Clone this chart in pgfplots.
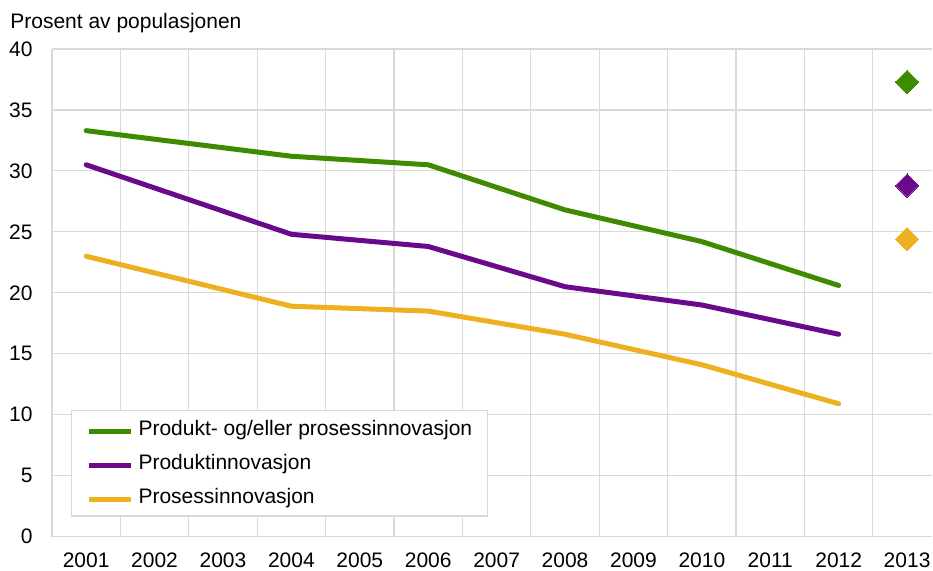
\documentclass[border=0pt]{standalone}
\usepackage{pgfplots}
\pgfplotsset{compat=1.18}
\usepackage{fontspec}
\setmainfont{Liberation Sans}

\definecolor{ggreen}{HTML}{3F8A00}
\definecolor{gpurple}{HTML}{6A0A8A}
\definecolor{ggold}{HTML}{EDB120}
\definecolor{ggrid}{HTML}{D9D9D9}

\begin{document}
\begin{tikzpicture}[font=\fontsize{10.5}{12}\selectfont]
  \path (-26pt,-17pt) rectangle (440.5pt,268.5pt);
  \begin{axis}[
    scale only axis,
    width=440.5pt, height=244pt,
    at={(0,0)}, anchor=south west,
    xmin=-0.5, xmax=12.37,
    ymin=0, ymax=40,
    xtick={0,...,12},
    xticklabels={2001,2002,2003,2004,2005,2006,2007,2008,2009,2010,2011,2012,2013},
    minor xtick={-0.5,0.5,1.5,2.5,3.5,4.5,5.5,6.5,7.5,8.5,9.5,10.5,11.5},
    ytick={0,5,...,40},
    ymajorgrids, xminorgrids,
    grid style={ggrid, line width=0.6pt},
    minor grid style={ggrid, line width=0.6pt},
    axis line style={draw=none},
    major tick length=0pt, minor tick length=0pt,
    /pgf/number format/assume math mode=true,
    xticklabel style={anchor=north, inner sep=0pt, yshift=-8pt},
    yticklabel style={anchor=east, inner sep=0pt, xshift=-9.5pt},
    legend style={at={(0.0216,0.041)}, anchor=south west, draw=ggrid,
      line width=0.6pt, inner xsep=7.5pt, inner ysep=4.5pt,
      nodes={inner sep=0pt, text height=8pt, text depth=2pt},
      row sep=7pt,
      /tikz/every odd column/.append style={column sep=2.5pt}},
    legend cell align=left,
    legend image code/.code={\draw[#1, line width=2.5pt, line cap=butt] (0pt,-1pt) -- (21pt,-1pt);},
  ]
    \addplot[ggreen, line width=2.5pt, line cap=round, line join=round] coordinates {(0,33.3) (3,31.2) (5,30.5) (7,26.8) (9,24.2) (11,20.6)};
    \addlegendentry{Produkt- og/eller prosessinnovasjon}
    \addplot[gpurple, line width=2.5pt, line cap=round, line join=round] coordinates {(0,30.5) (3,24.8) (5,23.8) (7,20.5) (9,19.0) (11,16.6)};
    \addlegendentry{Produktinnovasjon}
    \addplot[ggold, line width=2.5pt, line cap=round, line join=round] coordinates {(0,23.0) (3,18.9) (5,18.5) (7,16.6) (9,14.1) (11,10.9)};
    \addlegendentry{Prosessinnovasjon}
    \addplot[ggreen, only marks, mark=square*, mark size=4.1pt, mark options={rotate=45, line width=0pt, fill=ggreen}, forget plot] coordinates {(12,37.3)};
    \addplot[gpurple, only marks, mark=square*, mark size=4.1pt, mark options={rotate=45, line width=0pt, fill=gpurple}, forget plot] coordinates {(12,28.8)};
    \addplot[ggold, only marks, mark=square*, mark size=4.1pt, mark options={rotate=45, line width=0pt, fill=ggold}, forget plot] coordinates {(12,24.4)};
  \end{axis}
  \node[anchor=base west, inner sep=0pt] at (-21pt,254pt) {Prosent av populasjonen};
\end{tikzpicture}
\end{document}
